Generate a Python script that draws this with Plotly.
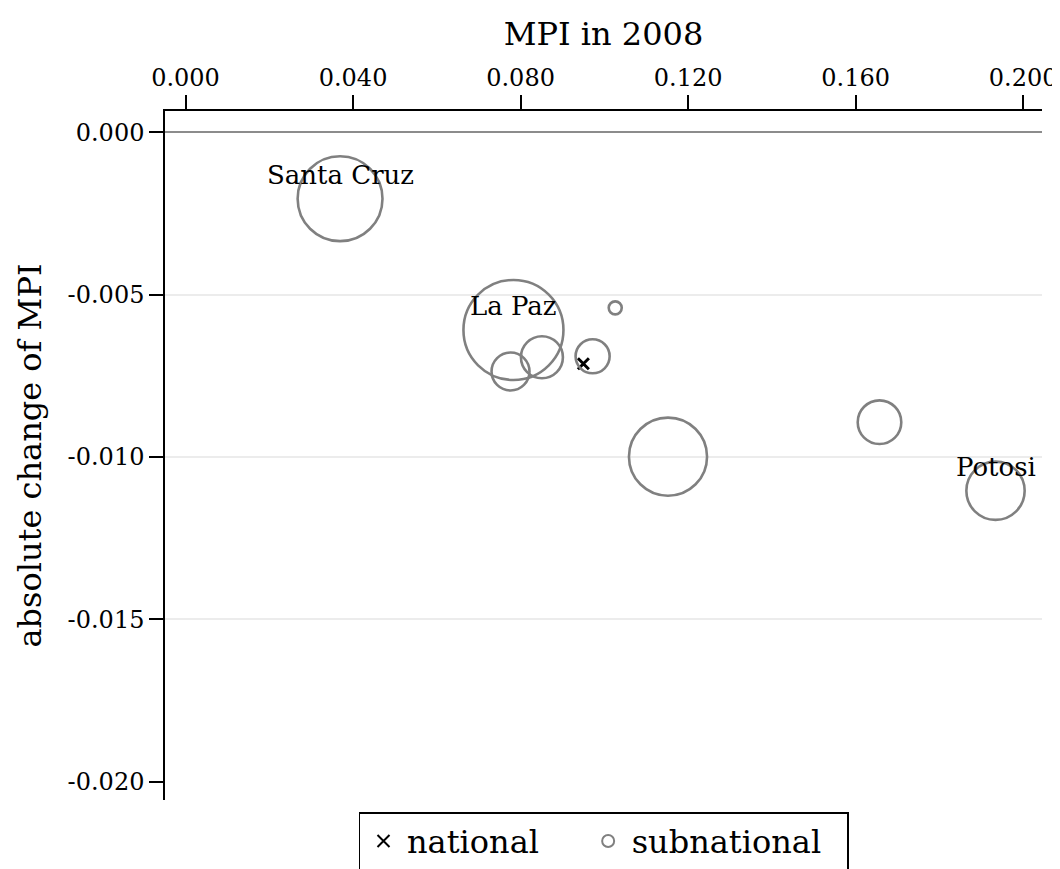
import plotly.graph_objects as go
import math

# Subnational (department) data
sub_mpi_2008 = [0.0369, 0.0783, 0.0776, 0.0851, 0.0972, 0.1026, 0.1152, 0.1657, 0.1934]
sub_abs_change = [-0.00205, -0.00609, -0.00737, -0.00693, -0.00690, -0.00541, -0.00999, -0.00893, -0.01104]
sub_weight = [72, 100, 14.4, 17.6, 11.6, 1.7, 61, 19, 34]
sub_labels = ["Santa Cruz", "La Paz", "", "", "", "", "", "", "Potosi"]

# National data
nat_mpi_2008 = [0.0950]
nat_abs_change = [-0.00713]

x_ticks = [0.000, 0.040, 0.080, 0.120, 0.160, 0.200]
x_tick_labels = ["0.000", "0.040", "0.080", "0.120", "0.160", "0.200"]
y_ticks = [0.000, -0.005, -0.010, -0.015, -0.020]
y_tick_labels = ["0.000", "-0.005", "-0.010", "-0.015", "-0.020"]
grid_ticks = [-0.005, -0.010, -0.015]

FONT = "DejaVu Serif"
GRAY = "#808080"
NBSP = "\u00a0"

sizes = [10 * math.sqrt(w) for w in sub_weight]

fig = go.Figure()

fig.add_trace(go.Scatter(
    x=nat_mpi_2008, y=nat_abs_change, mode="markers", name="national" + NBSP * 4,
    marker=dict(symbol="x-thin", size=11, color="black", opacity=1,
                line=dict(width=3, color="black")),
))
fig.add_trace(go.Scatter(
    x=sub_mpi_2008, y=sub_abs_change, mode="markers", name="subnational" + NBSP * 2,
    marker=dict(symbol="circle", size=sizes, sizemode="diameter", color="rgba(0,0,0,0)",
                opacity=1, line=dict(width=2.6, color=GRAY)),
))
# invisible trace to anchor the secondary y axis used for the light grid
fig.add_trace(go.Scatter(x=[None], y=[None], yaxis="y2", showlegend=False, hoverinfo="skip"))

for xv, yv, lab in zip(sub_mpi_2008, sub_abs_change, sub_labels):
    if lab:
        fig.add_annotation(x=xv, y=yv, text=lab, showarrow=False, yshift=24,
                           font=dict(family=FONT, size=26, color="black"))

yrange = [-0.02056, 0.00065]

# page body adds an 8px offset; figure is sized/margined to compensate
fig.update_layout(
    width=1052, height=861,
    margin=dict(l=157, r=18, t=103, b=69),
    paper_bgcolor="white", plot_bgcolor="rgba(0,0,0,0)",
    font=dict(family=FONT, color="black"),
    xaxis=dict(
        side="top", range=[-0.0049, 0.2045], tickvals=x_ticks, ticktext=x_tick_labels,
        showline=True, linecolor="black", linewidth=1.5,
        ticks="outside", ticklen=14, tickwidth=1.5, tickcolor="black",
        showgrid=False, zeroline=False, automargin=False,
        tickfont=dict(family=FONT, size=24, color="black"),
        title=dict(text="MPI in 2008", font=dict(family=FONT, size=32, color="black"), standoff=8),
    ),
    yaxis=dict(
        range=yrange, tickvals=y_ticks, ticktext=y_tick_labels,
        showline=True, linecolor="black", linewidth=1.5,
        ticks="outside", ticklen=14, tickwidth=1.5, tickcolor="black",
        showgrid=False, zeroline=True, zerolinecolor="#8c8c8c", zerolinewidth=1.5,
        automargin=False,
        tickfont=dict(family=FONT, size=24, color="black"),
        title=dict(text="absolute change of MPI", font=dict(family=FONT, size=32, color="black"), standoff=16),
    ),
    yaxis2=dict(
        overlaying="y", range=yrange, tickvals=grid_ticks, showticklabels=False,
        showgrid=True, gridcolor="#ececec", gridwidth=2, zeroline=False, showline=False, ticks="",
        automargin=False,
    ),
    legend=dict(
        orientation="h", xref="paper", x=0.5, xanchor="center",
        yref="container", y=0.066, yanchor="top",
        bgcolor="white", bordercolor="black", borderwidth=1.5,
        font=dict(family=FONT, size=32, color="black"),
        itemsizing="constant", itemwidth=37,
    ),
    showlegend=True,
)

fig.write_html("out.html")
